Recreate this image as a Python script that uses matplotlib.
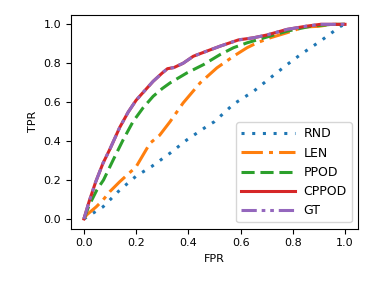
import numpy as np
import matplotlib
matplotlib.use('Agg')
import matplotlib.pyplot as plt

# ROC points
rnd_fpr = [0.0, 0.073, 0.137, 0.2, 0.26, 0.33, 0.394, 0.47, 0.5, 0.573, 0.65, 0.714, 0.778, 0.83, 0.906, 0.983, 1.0]
rnd_tpr = [0.0, 0.062, 0.148, 0.22, 0.27, 0.338, 0.406, 0.475, 0.5, 0.59, 0.656, 0.725, 0.793, 0.845, 0.914, 0.99, 1.0]

len_fpr = [0.0, 0.01, 0.047, 0.073, 0.099, 0.137, 0.2, 0.253, 0.29, 0.33, 0.38, 0.445, 0.509, 0.573,
           0.625, 0.663, 0.714, 0.778, 0.842, 0.9, 0.95, 1.0]
len_tpr = [0.0, 0.02, 0.062, 0.097, 0.14, 0.191, 0.268, 0.389, 0.43, 0.5, 0.596, 0.699, 0.776, 0.836,
           0.88, 0.905, 0.931, 0.957, 0.986, 0.99, 1.0, 1.0]

ppod_fpr = [0.0, 0.02, 0.05, 0.075, 0.112, 0.15, 0.188, 0.226, 0.265, 0.3, 0.33, 0.394, 0.458, 0.522,
            0.573, 0.625, 0.714, 0.778, 0.868, 0.95, 1.0]
ppod_tpr = [0.0, 0.07, 0.15, 0.2, 0.303, 0.406, 0.5, 0.57, 0.63, 0.67, 0.699, 0.75, 0.793, 0.845,
            0.88, 0.905, 0.94, 0.965, 0.99, 1.0, 1.0]

cppod_fpr = [0.0, 0.02, 0.045, 0.073, 0.1, 0.137, 0.17, 0.2, 0.23, 0.265, 0.3, 0.32, 0.345, 0.38,
             0.419, 0.47, 0.522, 0.592, 0.65, 0.7, 0.778, 0.85, 0.906, 1.0]
cppod_tpr = [0.0, 0.09, 0.19, 0.286, 0.36, 0.47, 0.55, 0.61, 0.655, 0.707, 0.75, 0.772, 0.778, 0.8,
             0.836, 0.862, 0.888, 0.92, 0.931, 0.945, 0.974, 0.99, 1.0, 1.0]

# GT curve coincides with CPPOD
gt_fpr = cppod_fpr
gt_tpr = cppod_tpr

lw = 2.2
plt.figure(figsize=(3.73, 2.92), dpi=100)
plt.subplots_adjust(left=0.19, right=0.96, top=0.95, bottom=0.217)
plt.plot(rnd_fpr, rnd_tpr, color='tab:blue', lw=lw, dashes=[1, 2.5], label='RND')
plt.plot(len_fpr, len_tpr, color='tab:orange', lw=lw, dashes=[7, 2, 1.3, 2], label='LEN')
plt.plot(ppod_fpr, ppod_tpr, color='tab:green', lw=lw, dashes=[4.3, 1.9], label='PPOD')
plt.plot(cppod_fpr, cppod_tpr, '-', color='tab:red', lw=lw, label='CPPOD')
plt.plot(gt_fpr, gt_tpr, color='tab:purple', lw=lw, dashes=[5, 1.6, 1.2, 1.6, 1.2, 1.6], label='GT')
plt.xlabel('FPR', fontsize=8)
plt.ylabel('TPR', fontsize=8)
plt.xticks(fontsize=8)
plt.yticks(fontsize=8)
plt.legend(fontsize=9, loc='lower right', handlelength=4.3, handletextpad=0.7)
plt.savefig('out.png', dpi=100)
